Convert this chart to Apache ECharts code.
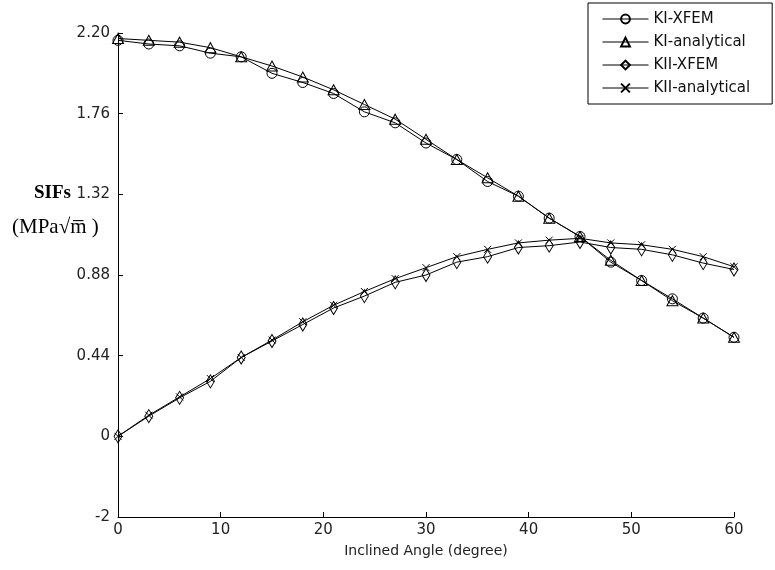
<!DOCTYPE html>
<html>
<head>
<meta charset="utf-8">
<script src="https://cdn.jsdelivr.net/npm/echarts@6/dist/echarts.min.js"></script>
<style>
  html, body { margin: 0; padding: 0; background: #fff; }
  #chart { width: 775px; height: 570px; }
</style>
</head>
<body>
<div id="chart"></div>
<script>
// inclined angle in degrees
const angles = [0, 3, 6, 9, 12, 15, 18, 21, 24, 27, 30, 33, 36, 39, 42, 45, 48, 51, 54, 57, 60]

const kiXfem = [2.16, 2.14, 2.13, 2.09, 2.07, 1.98, 1.93, 1.87, 1.77, 1.71, 1.60, 1.51, 1.39, 1.31, 1.19, 1.09, 0.95, 0.85, 0.75, 0.645, 0.54]
const kiAnalytical = [2.17, 2.16, 2.15, 2.12, 2.07, 2.02, 1.96, 1.89, 1.81, 1.73, 1.62, 1.51, 1.41, 1.31, 1.19, 1.09, 0.96, 0.85, 0.74, 0.645, 0.54]
const kiiXfem = [0, 0.11, 0.21, 0.30, 0.43, 0.52, 0.61, 0.70, 0.765, 0.84, 0.88, 0.95, 0.98, 1.03, 1.04, 1.06, 1.03, 1.02, 0.99, 0.945, 0.91]
const kiiAnalytical = [0, 0.115, 0.215, 0.315, 0.43, 0.525, 0.625, 0.715, 0.79, 0.86, 0.92, 0.98, 1.02, 1.055, 1.07, 1.08, 1.055, 1.045, 1.02, 0.98, 0.925]

// y tick labels as printed on the original figure (bottom one reads "-2")
const yTicks = [-0.44, 0, 0.44, 0.88, 1.32, 1.76, 2.2]
const yTickLabels = ['-2', '0', '0.44', '0.88', '1.32', '1.76', '2.20']

const pairs = (ys) => angles.map((a, i) => [a, ys[i]])

const hollow = { color: 'rgba(0,0,0,0)', borderColor: '#000', borderWidth: 1 }

function mkSeries(name, ys, symbol, size) {
  return {
    name: name,
    type: 'line',
    data: pairs(ys),
    symbol: symbol,
    symbolSize: size,
    showAllSymbol: true,
    lineStyle: { color: '#000', width: 1 },
    itemStyle: hollow,
    emphasis: { disabled: true },
    animation: false
  }
}

const chart = echarts.init(document.getElementById('chart'))

chart.setOption({
  backgroundColor: '#fff',
  animation: false,
  grid: { left: 118, right: 41, top: 33, bottom: 53, outerBoundsMode: 'none' },
  legend: {
    left: 588,
    top: 3,
    orient: 'vertical',
    borderColor: '#000',
    borderWidth: 1,
    backgroundColor: '#fff',
    padding: [8, 22, 8, 14],
    itemWidth: 46,
    itemHeight: 11,
    itemGap: 7,
    lineStyle: { width: 1 },
    textStyle: { fontFamily: 'DejaVu Sans', fontSize: 15, lineHeight: 16, color: '#111' },
    data: ['KI-XFEM', 'KI-analytical', 'KII-XFEM', 'KII-analytical']
  },
  xAxis: {
    type: 'value',
    min: 0,
    max: 60,
    interval: 10,
    name: 'Inclined Angle (degree)',
    nameLocation: 'middle',
    nameGap: 27,
    nameTextStyle: { fontFamily: 'DejaVu Sans', fontSize: 14, color: '#222' },
    axisLine: { onZero: false, lineStyle: { color: '#000', width: 1 } },
    axisTick: { inside: true, length: 5, lineStyle: { color: '#000' } },
    axisLabel: { margin: 6, fontFamily: 'DejaVu Sans', fontSize: 15, color: '#222' },
    splitLine: { show: false }
  },
  yAxis: {
    type: 'value',
    min: -0.44,
    max: 2.2,
    interval: 0.44,
    axisLine: { show: true, onZero: false, lineStyle: { color: '#000', width: 1 } },
    axisTick: { show: true, inside: true, length: 5, lineStyle: { color: '#000' } },
    axisLabel: {
      margin: 8,
      fontFamily: 'DejaVu Sans',
      fontSize: 15,
      color: '#222',
      formatter: function (v) {
        for (let i = 0; i < yTicks.length; i++) {
          if (Math.abs(v - yTicks[i]) < 1e-6) return yTickLabels[i]
        }
        return ''
      }
    },
    splitLine: { show: false }
  },
  graphic: [
    {
      type: 'text',
      left: 34,
      top: 184,
      style: { text: 'SIFs', font: 'bold 19px "Liberation Serif"', fill: '#000' }
    },
    {
      type: 'text',
      left: 12,
      top: 217,
      style: { text: '(MPa\u221Am\u0305 )', font: '21px "Liberation Serif"', fill: '#000' }
    }
  ],
  series: [
    mkSeries('KI-XFEM', kiXfem, 'circle', 10),
    mkSeries('KI-analytical', kiAnalytical, 'triangle', [11, 10]),
    mkSeries('KII-XFEM', kiiXfem, 'diamond', [8, 13]),
    mkSeries('KII-analytical', kiiAnalytical, 'path://M0,0L10,10M10,0L0,10', [7, 7])
  ]
})

window.onresize = function () {
  chart.resize()
}
</script>
</body>
</html>
